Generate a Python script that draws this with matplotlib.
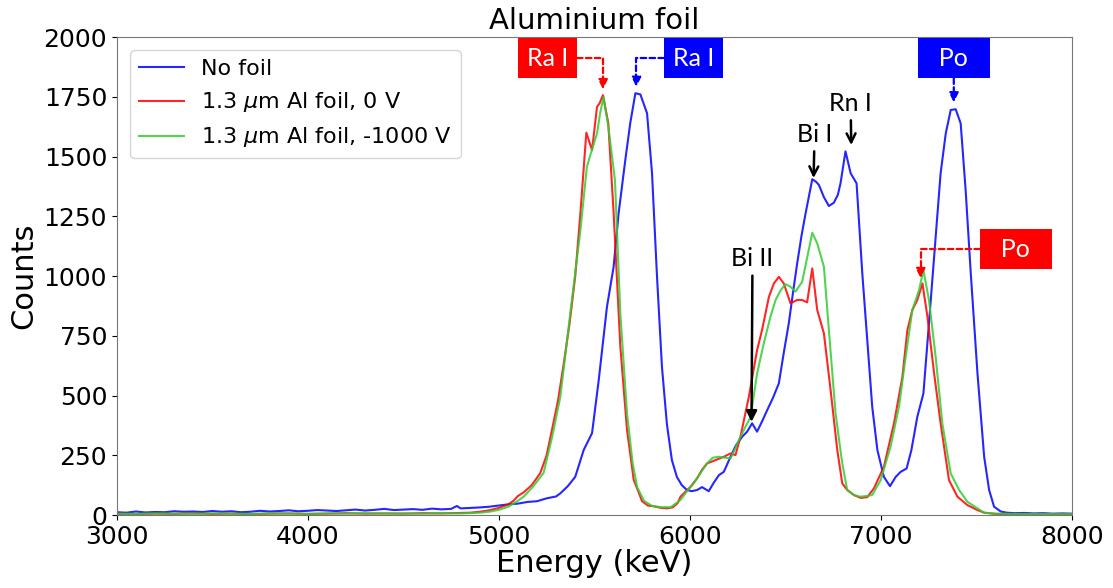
import matplotlib
matplotlib.use("Agg")
import matplotlib.pyplot as plt

# --- spectra (energy in keV, counts) ---
blue_e = [3000, 3050, 3100, 3150, 3200, 3250, 3300, 3350, 3400, 3450, 3500, 3550, 3600, 3650,
          3700, 3750, 3800, 3850, 3900, 3950, 4000, 4050, 4100, 4150, 4200, 4250, 4300, 4350,
          4400, 4450, 4500, 4550, 4600, 4650, 4700, 4750, 4780, 4800, 4850, 4900, 4950, 5000,
          5050, 5100, 5150, 5200, 5250, 5300, 5322, 5360, 5400, 5444, 5488, 5523, 5566, 5601,
          5627, 5662, 5688, 5715, 5741, 5776, 5802, 5828, 5854, 5880, 5906, 5932, 5958, 5985,
          6010, 6038, 6064, 6099, 6125, 6152, 6178, 6213, 6240, 6274, 6300, 6326, 6352, 6380,
          6405, 6435, 6466, 6492, 6518, 6540, 6562, 6585, 6606, 6625, 6641, 6660, 6676, 6702,
          6728, 6754, 6775, 6789, 6815, 6842, 6873, 6903, 6929, 6955, 6982, 7016, 7048, 7078,
          7104, 7135, 7160, 7191, 7223, 7252, 7287, 7313, 7340, 7366, 7392, 7418, 7444, 7471,
          7506, 7541, 7567, 7593, 7628, 7660, 7700, 7750, 7800, 7850, 7900, 7950, 8000]
blue_c = [12, 10, 15, 11, 13, 12, 16, 14, 15, 13, 17, 14, 16, 12,
          14, 18, 15, 17, 20, 16, 18, 21, 19, 17, 20, 23, 19, 22,
          26, 21, 23, 25, 22, 27, 24, 26, 38, 28, 30, 32, 35, 40,
          45, 48, 55, 58, 70, 78, 91, 120, 160, 272, 343, 565, 871, 1039,
          1262, 1485, 1640, 1765, 1760, 1681, 1430, 1000, 620, 380, 230, 160, 125, 105,
          100, 105, 117, 100, 135, 167, 181, 244, 290, 328, 349, 384, 349, 395,
          439, 490, 551, 680, 802, 930, 1053, 1170, 1262, 1340, 1405, 1395, 1381, 1330,
          1293, 1307, 1340, 1388, 1522, 1430, 1388, 1011, 732, 453, 272, 160, 121, 160,
          181, 195, 272, 411, 509, 802, 1165, 1430, 1597, 1695, 1698, 1639, 1360, 1011,
          593, 244, 105, 35, 15, 10, 8, 9, 7, 8, 6, 7, 6]

red_e = [3000, 3100, 3200, 3300, 3400, 3500, 3600, 3700, 3800, 3900, 4000, 4100, 4200, 4300,
         4400, 4500, 4600, 4700, 4800, 4850, 4900, 4950, 5000, 5050, 5077, 5100, 5130, 5173,
         5217, 5250, 5278, 5310, 5340, 5370, 5400, 5427, 5458, 5488, 5514, 5527, 5545, 5573,
         5601, 5636, 5671, 5706, 5750, 5780, 5810, 5850, 5880, 5910, 5937, 5951, 5980, 6003,
         6038, 6064, 6090, 6134, 6178, 6213, 6239, 6265, 6309, 6352, 6378, 6414, 6440, 6466,
         6492, 6527, 6562, 6588, 6614, 6641, 6667, 6702, 6737, 6772, 6798, 6824, 6859, 6894,
         6929, 6964, 7016, 7069, 7113, 7139, 7165, 7191, 7218, 7244, 7279, 7313, 7357, 7401,
         7453, 7506, 7541, 7600, 7700, 7800, 7900, 8000]
red_c = [5, 4, 6, 5, 7, 5, 6, 4, 6, 7, 5, 6, 8, 6,
         7, 6, 8, 7, 9, 10, 14, 20, 30, 45, 60, 80, 95, 126,
         176, 250, 356, 480, 635, 800, 1000, 1263, 1600, 1527, 1708, 1722, 1757, 1640,
         1264, 706, 357, 148, 58, 40, 37, 30, 28, 32, 51, 77, 100, 118,
         154, 190, 216, 230, 244, 258, 251, 328, 495, 690, 774, 913, 969, 997,
         969, 886, 900, 900, 890, 1032, 858, 760, 523, 272, 133, 105, 84, 72,
         75, 112, 202, 384, 579, 774, 858, 900, 969, 830, 593, 384, 146, 77,
         42, 21, 10, 5, 4, 3, 4, 3]

green_e = [3000, 3100, 3200, 3300, 3400, 3500, 3600, 3700, 3800, 3900, 4000, 4100, 4200, 4300,
           4400, 4500, 4600, 4700, 4800, 4900, 4950, 5000, 5050, 5100, 5130, 5180, 5234, 5280,
           5322, 5374, 5427, 5461, 5488, 5514, 5530, 5548, 5573, 5608, 5636, 5671, 5700, 5724,
           5760, 5803, 5850, 5900, 5951, 5985, 6020, 6055, 6090, 6120, 6152, 6185, 6213, 6265,
           6318, 6352, 6387, 6422, 6449, 6475, 6501, 6527, 6553, 6588, 6615, 6641, 6667, 6702,
           6728, 6763, 6798, 6824, 6859, 6890, 6930, 6955, 6999, 7051, 7095, 7130, 7165, 7200,
           7223, 7252, 7287, 7322, 7366, 7410, 7453, 7506, 7541, 7600, 7700, 8000]
green_c = [6, 5, 7, 6, 5, 7, 6, 5, 7, 6, 5, 7, 6, 8,
           6, 7, 6, 8, 7, 10, 14, 22, 35, 60, 77, 120, 176, 330,
           495, 844, 1192, 1457, 1530, 1597, 1680, 1750, 1626, 1401, 844, 426, 220, 117,
           60, 38, 33, 33, 63, 100, 132, 175, 216, 240, 244, 240, 237, 328,
           411, 592, 718, 830, 900, 940, 966, 955, 935, 976, 1080, 1181, 1137, 1039,
           774, 425, 216, 105, 84, 77, 80, 84, 146, 286, 453, 662, 858, 941,
           1025, 900, 662, 384, 174, 105, 56, 28, 10, 6, 5, 4]

labels = ['No foil', '1.3 $\\mu$m Al foil, 0 V', '1.3 $\\mu$m Al foil, -1000 V']

fig = plt.figure(figsize=(11.13, 5.88), dpi=100)
ax = fig.add_axes([0.105, 0.124, 0.858, 0.813])

ax.plot(blue_e, blue_c, color='b', lw=1.5, alpha=0.85, label=labels[0])
ax.plot(red_e, red_c, color='r', lw=1.5, alpha=0.85, label=labels[1])
ax.plot(green_e, green_c, color='limegreen', lw=1.5, alpha=0.85, label=labels[2])

ax.set_xlim(3000, 8000)
ax.set_ylim(0, 2000)
ax.set_yticks(range(0, 2001, 250))
ax.tick_params(labelsize=18)
ax.set_xlabel('Energy (keV)', fontsize=22, labelpad=0)
ax.set_ylabel('Counts', fontsize=22)
ax.set_title('Aluminium foil', fontsize=21, pad=6)
for s in ax.spines.values():
    s.set_color('#777777')

ax.legend(loc='upper left', fontsize=16, borderaxespad=0.6)

# coloured peak labels with elbow arrows
box_font = 'Lato'
def peak_box(text, xy, xytext, color, elbow=True):
    ax.annotate(text, xy=xy, xytext=xytext, ha='center', va='center',
                fontsize=18, family=box_font, color='white',
                bbox=dict(boxstyle='square,pad=0.35', fc=color, ec='none'),
                arrowprops=dict(arrowstyle='-|>', color=color, lw=1.6, ls=(0, (2.5, 1.5)),
                                mutation_scale=14, shrinkA=0, shrinkB=2,
                                connectionstyle='angle,angleA=0,angleB=90,rad=0' if elbow else 'arc3'))

peak_box('Ra I', (5545, 1770), (5254, 1912), 'red')
peak_box('Ra I', (5720, 1780), (6019, 1912), 'blue')
peak_box('  Po  ', (7382, 1715), (7382, 1912), 'blue', elbow=False)
peak_box('  Po  ', (7208, 980), (7706, 1113), 'red')

# black line labels
ax.annotate('Bi II', xy=(6323, 390), xytext=(6328, 1025), ha='center', va='bottom',
            fontsize=18, family=box_font,
            arrowprops=dict(arrowstyle='-|>', color='k', lw=1.8, mutation_scale=16, shrinkA=2, shrinkB=0))
ax.annotate('Bi I', xy=(6648, 1410), xytext=(6653, 1545), ha='center', va='bottom',
            fontsize=18, family=box_font,
            arrowprops=dict(arrowstyle='->', color='k', lw=1.8, mutation_scale=16, shrinkA=2, shrinkB=0))
ax.annotate('Rn I', xy=(6845, 1548), xytext=(6842, 1675), ha='center', va='bottom',
            fontsize=18, family=box_font,
            arrowprops=dict(arrowstyle='->', color='k', lw=1.8, mutation_scale=16, shrinkA=2, shrinkB=0))

fig.savefig('out.png', dpi=100)
